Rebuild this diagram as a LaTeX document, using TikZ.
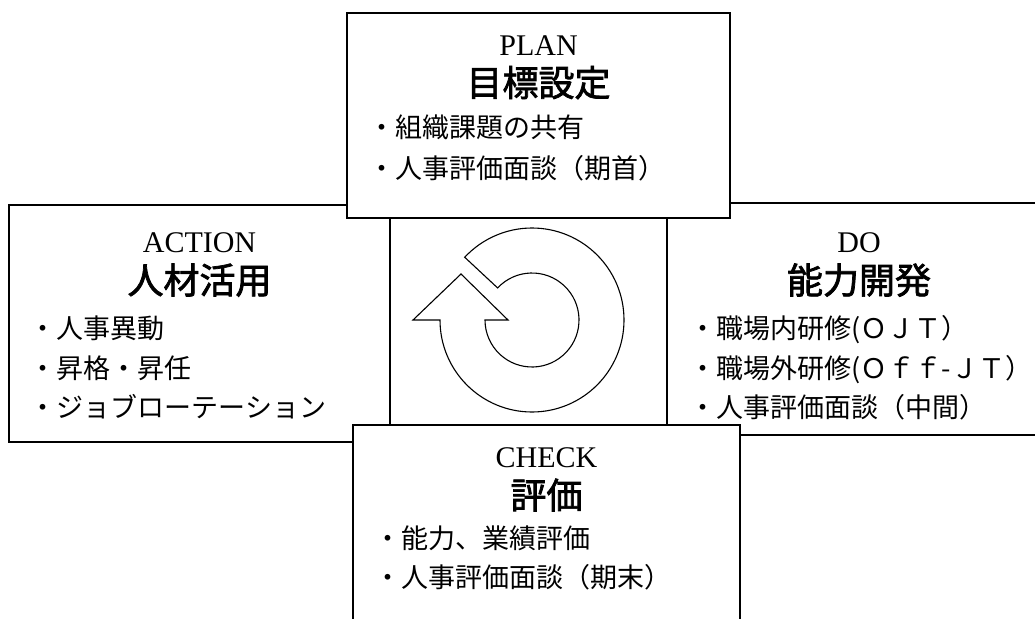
\documentclass[tikz,border=0pt]{standalone}
\usepackage{fontspec}
\usetikzlibrary{calc}
\setmainfont{Liberation Serif}
\newfontfamily\jp{Noto Sans CJK JP}
\newfontfamily\jpt[FakeBold=2]{Noto Sans CJK JP}
\begin{document}
\begin{tikzpicture}[x=1pt,y=-1pt,
  box/.style={draw=black,line width=1.4pt,fill=white,inner sep=0pt},
  head/.style={font=\fontsize{30}{30}\selectfont,anchor=base,inner sep=0pt},
  ttl/.style={font=\jpt\fontsize{36}{36}\selectfont,anchor=base,inner sep=0pt},
  itm/.style={font=\jp\fontsize{27}{27}\selectfont,anchor=base west,inner sep=0pt},
  cyc/.style={draw=black,line width=1.1pt,fill=white,line join=miter}
]
\useasboundingbox (0,0) rectangle (1035,618);
\clip (0,0) rectangle (1035,618);

% side boxes (underneath)
\node[box,minimum width=381pt,minimum height=237pt] (action) at (199.5,323.5) {};
\node[box,minimum width=384pt,minimum height=232pt] (do) at (859,319) {};
% top and bottom boxes (on top)
\node[box,minimum width=383pt,minimum height=205pt] (plan) at (538.5,115.5) {};
\node[box,minimum width=387pt,minimum height=225pt] (check) at (546.5,537.5) {};

% PLAN
\node[head] (planh) at (538.5,55.5) {PLAN};
\node[ttl] (plant) at (538.5,96.2) {目標設定};
\node[itm] (plan1) at (368.5,137.3) {・組織課題の共有};
\node[itm] (plan2) at (368.5,178.3) {・人事評価面談（期首）};

% ACTION
\node[head] (actionh) at (199.5,252) {ACTION};
\node[ttl] (actiont) at (199.5,293.7) {人材活用};
\node[itm] (action1) at (29.5,338.3) {・人事異動};
\node[itm] (action2) at (29.5,378.3) {・昇格・昇任};
\node[itm] (action3) at (29.5,417.3) {・ジョブローテーション};

% DO
\node[head] (doh) at (859,252) {DO};
\node[ttl] (dot) at (859,293.7) {能力開発};
\node[itm] (do1) at (689.5,338.3) {・職場内研修(ＯＪＴ）};
\node[itm] (do2) at (689.5,378.3) {・職場外研修(Ｏｆｆ-ＪＴ）};
\node[itm] (do3) at (689.5,417.3) {・人事評価面談（中間）};

% CHECK
\node[head] (checkh) at (546.5,467) {CHECK};
\node[ttl] (checkt) at (546.5,508.7) {評価};
\node[itm] (check1) at (374.5,548.3) {・能力、業績評価};
\node[itm] (check2) at (374.5,587.3) {・人事評価面談（期末）};

% circular arrow
\coordinate (c) at (532,320);
\draw[cyc] (440,320) arc[start angle=180,end angle=-137,radius=92]
  -- ($(c)+(-137:47)$) arc[start angle=-137,end angle=180,radius=47]
  -- (508,320) -- (461,274) -- (413,320) -- cycle;
\end{tikzpicture}
\end{document}
